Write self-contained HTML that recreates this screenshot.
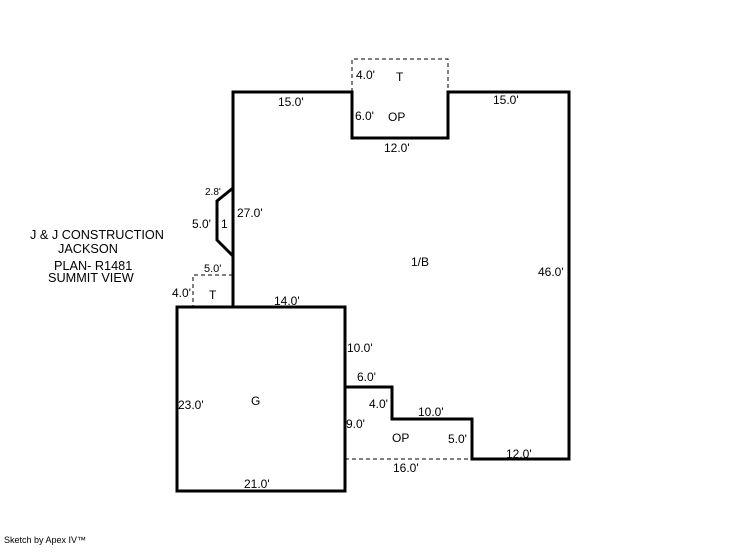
<!DOCTYPE html>
<html><head><meta charset="utf-8"><style>
body{margin:0;background:#fff;width:746px;height:547px;overflow:hidden}
svg text{font-family:"Liberation Sans",sans-serif;font-size:12px;fill:#000}
</style></head><body>
<svg width="746" height="547" xmlns="http://www.w3.org/2000/svg">
<g fill="none" stroke="#000" stroke-width="3">
<polyline points="233,307 233,92 352,92 352,138 448,138 448,92 569,92 569,459 472,459 472,419 392,419 392,387 345,387"/>
<rect x="177" y="307" width="168" height="184"/>
<polyline points="233,188 217,201 217,240 233,256"/>
</g>
<g fill="none" stroke="#000" stroke-width="1" stroke-dasharray="4,3">
<polyline points="352,92 352,59 448,59 448,92"/>
<polyline points="233,275 193,275 193,307"/>
<line x1="345" y1="459" x2="472" y2="459"/>
</g>
<text x="356" y="79">4.0'</text><text x="396" y="81">T</text>
<text x="278" y="106">15.0'</text><text x="493" y="104">15.0'</text>
<text x="355" y="120">6.0'</text><text x="388" y="121">OP</text>
<text x="384" y="152">12.0'</text>
<text x="205" y="195" style="font-size:10px">2.8'</text>
<text x="192" y="228">5.0'</text><text x="221" y="228">1</text>
<text x="237" y="217">27.0'</text>
<text x="204" y="272" style="font-size:11px">5.0'</text>
<text x="172" y="297">4.0'</text><text x="209" y="299">T</text>
<text x="274" y="305">14.0'</text>
<text x="411" y="266">1/B</text><text x="538" y="276">46.0'</text>
<text x="347" y="352">10.0'</text>
<text x="357" y="381">6.0'</text>
<text x="178" y="409">23.0'</text><text x="251" y="405">G</text>
<text x="369" y="408">4.0'</text><text x="418" y="416">10.0'</text>
<text x="346" y="428">9.0'</text><text x="392" y="442">OP</text>
<text x="448" y="443">5.0'</text><text x="506" y="458">12.0'</text>
<text x="393" y="472">16.0'</text><text x="244" y="488">21.0'</text>
<g style="font-size:12.7px">
<text x="30" y="239" style="font-size:12.7px">J &amp; J CONSTRUCTION</text>
<text x="58" y="253" style="font-size:12.7px">JACKSON</text>
<text x="54" y="270" style="font-size:12.7px">PLAN- R1481</text>
<text x="48" y="282" style="font-size:12.7px">SUMMIT VIEW</text>
</g>
<text x="4" y="543" style="font-size:9px">Sketch by Apex IV™</text>
</svg>
</body></html>
